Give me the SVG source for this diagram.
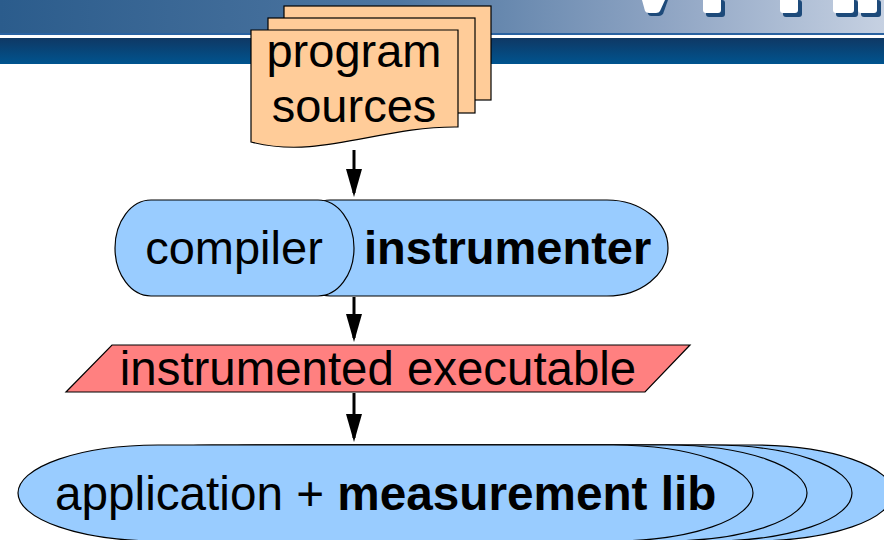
<svg xmlns="http://www.w3.org/2000/svg" width="884" height="540" viewBox="0 0 884 540">
<defs>
<linearGradient id="hdr" x1="0" y1="0" x2="1" y2="0">
<stop offset="0" stop-color="#2b5c8c"/>
<stop offset="0.45" stop-color="#4e76a1"/>
<stop offset="0.75" stop-color="#8ea4c3"/>
<stop offset="1" stop-color="#c6d1e2"/>
</linearGradient>
<linearGradient id="band" x1="0" y1="0" x2="0" y2="1">
<stop offset="0" stop-color="#0f3864"/>
<stop offset="1" stop-color="#00548f"/>
</linearGradient>
<marker id="ah" viewBox="0 0 28 16" refX="24" refY="8" markerWidth="28" markerHeight="16" orient="auto" markerUnits="userSpaceOnUse">
<path d="M0,0 L28,8 L0,16 Z" fill="#000"/>
</marker>
<path id="app" d="M158,445 H613 A140,48 0 0 1 613,541 H158 A140,48 0 0 1 158,445 Z"/>
<style>
.t{font-family:"Liberation Sans",Arial,sans-serif;font-size:47px;fill:#000}
.b{font-weight:bold}
.page{fill:#ffcc99;stroke:#000;stroke-width:1.2}
.blue{fill:#99ccff;stroke:#000;stroke-width:1.2}
.red{fill:#ff8080;stroke:#000;stroke-width:1.2}
.conn{stroke:#000;stroke-width:3;fill:none;marker-end:url(#ah)}
.logo{fill:#fff}
.shd{fill:#1d4a7a}
</style>
</defs>
<g id="header">
<rect x="0" y="0" width="884" height="34" fill="url(#hdr)"/>
<rect x="0" y="33" width="884" height="2" fill="#2a62a0"/>
<rect x="0" y="35" width="884" height="3" fill="#ffffff"/>
<rect x="0" y="38" width="884" height="26" fill="url(#band)"/>
<g class="shd">
<path d="M645,0 H668 L663,14 Q661,16 659,16 H651 Q649,16 648,14 Z"/>
<rect x="706" y="0" width="19" height="17" rx="3"/>
<rect x="783" y="0" width="19" height="17" rx="3"/>
<rect x="836" y="0" width="22" height="17" rx="3"/>
<rect x="861" y="0" width="20" height="17" rx="3"/>
</g>
<g class="logo">
<path d="M642,0 H665 L660,11 Q659,13 656,13 H649 Q646,13 645,11 Z"/>
<rect x="703" y="-4" width="18" height="17" rx="3"/>
<rect x="780" y="-4" width="18" height="17" rx="3"/>
<rect x="833" y="-4" width="21" height="17" rx="3"/>
<rect x="858" y="-4" width="19" height="17" rx="3"/>
</g>
</g>
<g id="connectors">
<line class="conn" x1="354" y1="150" x2="354" y2="193"/>
<line class="conn" x1="354" y1="297" x2="354" y2="338"/>
<line class="conn" x1="354" y1="393" x2="354" y2="438"/>
</g>
<g id="program-sources">
<rect class="page" x="284" y="6" width="207" height="94"/>
<rect class="page" x="268" y="18" width="207" height="95"/>
<path class="page" d="M251,30 H458 V127 C380,126 320,160 251,142 Z"/>
<text class="t" x="354" y="67" text-anchor="middle">program</text>
<text class="t" x="354" y="122" text-anchor="middle">sources</text>
</g>
<g id="instrumenter">
<path class="blue" d="M330,200 H607 A61,48 0 0 1 607,296 H330 A36,48 0 0 1 330,200 Z"/>
<text class="t b" x="364" y="264">instrumenter</text>
</g>
<g id="compiler">
<path class="blue" d="M151,200 H318 A36,48 0 0 1 318,296 H151 A36,48 0 0 1 151,200 Z"/>
<text class="t" x="234" y="264" text-anchor="middle">compiler</text>
</g>
<g id="instrumented-executable">
<path class="red" d="M112,345 H690 L645,392 H66 Z"/>
<text class="t" x="378" y="385" text-anchor="middle" style="font-size:47.4px">instrumented executable</text>
</g>
<g id="application">
<use href="#app" class="blue" x="140"/>
<use href="#app" class="blue" x="99"/>
<use href="#app" class="blue" x="54"/>
<use href="#app" class="blue"/>
<text class="t" x="55" y="510" style="font-size:47.7px">application + <tspan class="b">measurement lib</tspan></text>
</g>
</svg>
